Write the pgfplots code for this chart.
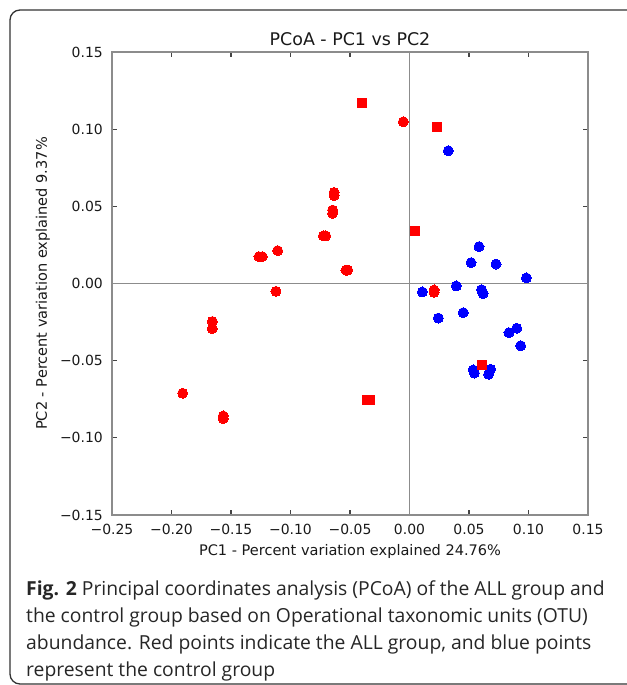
\documentclass[border=0pt]{standalone}
\usepackage{fontspec}
\setmainfont{DejaVu Sans}
\newfontfamily\capfont{Open Sans}
\usepackage{pgfplots}
\usepackage{pgfplotstable}
\pgfplotsset{compat=1.18}
\definecolor{axgray}{HTML}{8C8C8C}
\definecolor{tickgray}{HTML}{444444}
\definecolor{ptred}{HTML}{FF0000}
\definecolor{ptblue}{HTML}{0000FF}

\pgfplotstableread{
x y
-0.0052 0.1048
-0.0634 0.0590
-0.0634 0.0570
-0.0646 0.0476
-0.0646 0.0455
-0.0724 0.0308
-0.0704 0.0308
-0.0534 0.0087
-0.0519 0.0087
-0.1265 0.0174
-0.1237 0.0174
-0.1108 0.0213
-0.1122 -0.0051
-0.1657 -0.0246
-0.1657 -0.0292
-0.1906 -0.0711
-0.1565 -0.0858
-0.1565 -0.0875
0.0206 -0.0042
0.0206 -0.0057
}\redcircles

\pgfplotstableread{
x y
-0.0397 0.1170
0.0228 0.1012
0.0049 0.0342
0.0612 -0.0530
-0.0361 -0.0755
-0.0332 -0.0755
}\redsquares

\pgfplotstableread{
x y
0.0326 0.0860
0.0584 0.0239
0.0517 0.0135
0.0727 0.0126
0.0982 0.0036
0.0108 -0.0055
0.0393 -0.0016
0.0605 -0.0040
0.0618 -0.0065
0.0452 -0.0189
0.0242 -0.0224
0.0836 -0.0319
0.0901 -0.0290
0.0934 -0.0403
0.0535 -0.0560
0.0545 -0.0580
0.0682 -0.0556
0.0665 -0.0588
}\bluepts

\begin{document}
\begin{tikzpicture}[x=1bp,y=1bp]
\draw[line width=1.3bp, black!80, rounded corners=10bp] (10,1) rectangle (700,675);
\begin{axis}[
  at={(112bp,170bp)}, anchor=south west,
  scale only axis, width=476bp, height=463bp,
  xmin=-0.25, xmax=0.15, ymin=-0.15, ymax=0.15,
  xtick={-0.25,-0.2,-0.15,-0.1,-0.05,0,0.05,0.1,0.15},
  xticklabels={−0.25,−0.20,−0.15,−0.10,−0.05,0.00,0.05,0.10,0.15},
  ytick={-0.15,-0.1,-0.05,0,0.05,0.1,0.15},
  yticklabels={−0.15,−0.10,−0.05,0.00,0.05,0.10,0.15},
  tick align=inside, major tick length=5bp,
  axis line style={axgray, line width=1.3bp},
  tick style={tickgray, line width=1.3bp},
  xticklabel style={font=\fontsize{14}{14}\selectfont, text=black!90, anchor=base, inner sep=0pt, yshift=-20bp},
  yticklabel style={font=\fontsize{14}{14}\selectfont, text=black!90, anchor=east, inner sep=0pt, xshift=-9bp},
  title={PCoA - PC1 vs PC2},
  every axis title/.style={at={(0.5,1)}, anchor=base, yshift=6bp, font=\fontsize{17.5}{17.5}\selectfont, text=black!90},
  xlabel={PC1 - Percent variation explained 24.76\%},
  every axis x label/.style={at={(0.5,0)}, anchor=base, yshift=-41bp, font=\fontsize{14.6}{14.6}\selectfont, text=black!90},
  ylabel={PC2 - Percent variation explained 9.37\%},
  every axis y label/.style={at={(-0.1366,0.5)}, rotate=90, anchor=base, font=\fontsize{14.6}{14.6}\selectfont, text=black!90},
]
\draw[axgray, line width=1.3bp] (axis cs:0,-0.15) -- (axis cs:0,0.15);
\draw[axgray, line width=1.3bp] (axis cs:-0.25,0) -- (axis cs:0.15,0);
\addplot[only marks, color=ptblue, mark=*, mark size=5bp, mark options={draw=ptblue, fill=ptblue, line width=0pt}] table {\bluepts};
\addplot[only marks, color=ptred, mark=*, mark size=5bp, mark options={draw=ptred, fill=ptred, line width=0pt}] table {\redcircles};
\addplot[only marks, color=ptred, mark=square*, mark size=4.5bp, mark options={draw=ptred, fill=ptred, line width=0pt}] table {\redsquares};
\end{axis}
\begin{scope}[every node/.style={anchor=base west, inner sep=0pt, font=\capfont\fontsize{19.4}{19.4}\selectfont, text=black!85}]
\node at (26,89) {\textbf{Fig. 2} Principal coordinates analysis (PCoA) of the ALL group and};
\node at (26,62) {the control group based on Operational taxonomic units (OTU)};
\node at (26,35) {abundance. Red points indicate the ALL group, and blue points};
\node at (26,8) {represent the control group};
\end{scope}
\pgfresetboundingbox
\useasboundingbox (0,0) rectangle (627,685);
\end{tikzpicture}
\end{document}
